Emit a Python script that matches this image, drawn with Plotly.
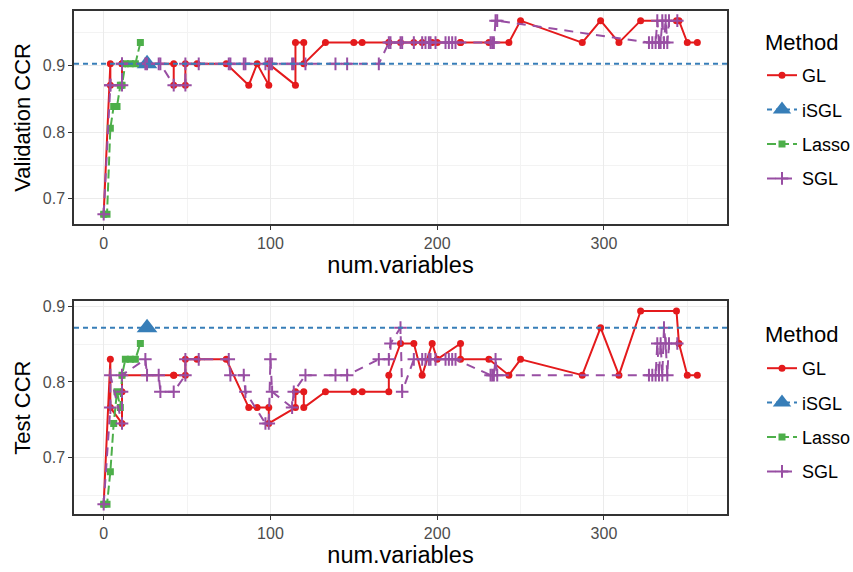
import plotly.graph_objects as go

# ---- data: CCR against number of selected variables ----
# Group lasso (GL)
gl_x = [0, 4, 4, 11, 11, 11, 42, 42, 49, 49, 56, 73.5, 87, 92, 99, 99, 115, 115,
        120, 120, 133, 150, 155, 171, 171, 178, 186, 191, 197, 200, 214, 214,
        231, 243, 250, 287, 298, 309, 322, 343.5, 345, 350, 356]
gl_val = [0.677, 0.903, 0.871, 0.871, 0.903, 0.903, 0.903, 0.871, 0.871, 0.903,
          0.903, 0.903, 0.871, 0.903, 0.871, 0.903, 0.871, 0.935, 0.935, 0.903,
          0.935, 0.935, 0.935, 0.935, 0.935, 0.935, 0.935, 0.935, 0.935, 0.935,
          0.935, 0.935, 0.935, 0.935, 0.968, 0.935, 0.968, 0.935, 0.968, 0.968,
          0.968, 0.935, 0.935]
gl_test = [0.638, 0.830, 0.766, 0.745, 0.787, 0.809, 0.809, 0.809, 0.809, 0.830,
           0.830, 0.830, 0.766, 0.766, 0.766, 0.745, 0.766, 0.787, 0.787, 0.766,
           0.787, 0.787, 0.787, 0.787, 0.809, 0.851, 0.851, 0.809, 0.851, 0.830,
           0.851, 0.830, 0.830, 0.809, 0.830, 0.809, 0.872, 0.809, 0.894, 0.894,
           0.851, 0.809, 0.809]

# iSGL: a single selected model
isgl_x = [26]
isgl_val = [0.903]
isgl_test = [0.872]

# Lasso
lasso_x = [0, 2, 4, 6, 8, 10, 11, 13, 16, 19, 22]
lasso_val = [0.677, 0.677, 0.806, 0.839, 0.839, 0.871, 0.871, 0.903, 0.903, 0.903, 0.935]
lasso_test = [0.638, 0.638, 0.681, 0.745, 0.787, 0.766, 0.809, 0.830, 0.830, 0.830, 0.851]

# Sparse group lasso (SGL)
sgl_x = [0, 4, 4, 11, 11, 11, 25, 26, 33, 34, 42, 49, 49, 57, 75, 76, 84, 85,
         97, 99, 100, 101, 113, 114, 121, 139, 146, 165, 171, 172, 178, 179,
         186, 191, 193, 195, 196, 199, 205, 207, 209, 211, 232, 233, 234, 235,
         236, 327, 329, 331, 332, 333, 334, 335, 336, 337, 338, 339, 344]
sgl_val = [0.677, 0.871, 0.871, 0.871, 0.903, 0.903, 0.903, 0.903, 0.903, 0.903,
           0.871, 0.871, 0.903, 0.903, 0.903, 0.903, 0.903, 0.903, 0.903, 0.903,
           0.903, 0.903, 0.903, 0.903, 0.903, 0.903, 0.903, 0.903, 0.935, 0.935,
           0.935, 0.935, 0.935, 0.935, 0.935, 0.935, 0.935, 0.935, 0.935, 0.935,
           0.935, 0.935, 0.935, 0.935, 0.935, 0.968, 0.968, 0.935, 0.935, 0.935,
           0.968, 0.935, 0.935, 0.968, 0.935, 0.968, 0.935, 0.968, 0.968]
sgl_test = [0.638, 0.766, 0.809, 0.745, 0.787, 0.809, 0.830, 0.809, 0.809, 0.787,
            0.787, 0.809, 0.830, 0.830, 0.830, 0.809, 0.809, 0.787, 0.745, 0.745,
            0.830, 0.787, 0.766, 0.787, 0.809, 0.809, 0.809, 0.830, 0.830, 0.851,
            0.872, 0.787, 0.830, 0.830, 0.830, 0.830, 0.830, 0.830, 0.830, 0.830,
            0.830, 0.830, 0.809, 0.809, 0.809, 0.830, 0.809, 0.809, 0.809, 0.809,
            0.851, 0.809, 0.851, 0.809, 0.872, 0.851, 0.809, 0.851, 0.851]

methods = ["GL", "iSGL", "Lasso", "SGL"]
x_ticks = [0, 100, 200, 300]
y_ticks = [0.7, 0.8, 0.9]

colors = {"GL": "#E41A1C", "iSGL": "#377EB8", "Lasso": "#4DAF4A", "SGL": "#984EA3"}
dashes = {"GL": "solid", "iSGL": "5px,4px", "Lasso": "9px,4px", "SGL": "9px,7px"}

FONT = "Liberation Sans, Arial, sans-serif"

fig = go.Figure()

panels = [
    ("x", "y", "legend", {"GL": gl_val, "iSGL": isgl_val, "Lasso": lasso_val, "SGL": sgl_val}),
    ("x2", "y2", "legend2", {"GL": gl_test, "iSGL": isgl_test, "Lasso": lasso_test, "SGL": sgl_test}),
]
xs = {"GL": gl_x, "iSGL": isgl_x, "Lasso": lasso_x, "SGL": sgl_x}

for xa, ya, leg, ys in panels:
    for m in methods:
        c = colors[m]
        if m == "GL":
            marker = dict(symbol="circle", size=7, color=c)
        elif m == "iSGL":
            marker = dict(symbol="triangle-up", size=18, color=c)
        elif m == "Lasso":
            marker = dict(symbol="square", size=7, color=c)
        else:
            marker = dict(symbol="cross-thin", size=9, color=c,
                          line=dict(color=c, width=2))
        fig.add_trace(go.Scatter(
            x=xs[m], y=ys[m], name=m, mode="lines+markers",
            line=dict(color=c, width=2, dash=dashes[m]),
            marker=marker, xaxis=xa, yaxis=ya, legend=leg,
            legendgroup=m + leg, showlegend=True,
        ))
    # iSGL reference level across the full panel
    fig.add_shape(type="line", xref=xa + " domain", yref=ya, x0=0, x1=1,
                  y0=ys["iSGL"][0], y1=ys["iSGL"][0],
                  line=dict(color=colors["iSGL"], width=2, dash="5px,4px"),
                  layer="above")

axis_common = dict(
    showgrid=True, gridcolor="#EBEBEB", gridwidth=1.4,
    showline=True, mirror=True, linecolor="#333333", linewidth=1.5,
    ticks="outside", ticklen=4, tickwidth=1.2, tickcolor="#333333",
    tickfont=dict(family=FONT, size=16, color="#4D4D4D"),
    zeroline=False,
)

title_font = dict(family=FONT, size=22, color="#000000")

xaxis_common = dict(axis_common, range=[-17.8, 373.8], tickmode="array",
                    tickvals=x_ticks,
                    minor=dict(tickmode="array", tickvals=[50, 150, 250, 350],
                               showgrid=True, gridcolor="#F3F3F3", gridwidth=0.9,
                               ticks=""),
                    title=dict(text="num.variables",
                               font=dict(title_font, size=23.5), standoff=6))

fig.update_layout(
    width=853, height=572,
    margin=dict(l=74, r=126, t=8, b=58),
    paper_bgcolor="white", plot_bgcolor="white",
    font=dict(family=FONT),
    xaxis=dict(xaxis_common, domain=[0, 1], anchor="y"),
    xaxis2=dict(xaxis_common, domain=[0, 1], anchor="y2"),
    yaxis=dict(axis_common, domain=[0.577, 1], anchor="x",
               range=[0.6625, 0.9825], tickmode="array", tickvals=y_ticks,
               ticktext=[str(v) for v in y_ticks],
               minor=dict(tickmode="array", tickvals=[0.65, 0.75, 0.85, 0.95],
                          showgrid=True, gridcolor="#F3F3F3", gridwidth=0.9, ticks=""),
               title=dict(text="Validation CCR", font=title_font, standoff=6)),
    yaxis2=dict(axis_common, domain=[0, 0.423], anchor="x2",
                range=[0.625, 0.907], tickmode="array", tickvals=y_ticks,
                ticktext=[str(v) for v in y_ticks],
                minor=dict(tickmode="array", tickvals=[0.65, 0.75, 0.85],
                           showgrid=True, gridcolor="#F3F3F3", gridwidth=0.9, ticks=""),
                title=dict(text="Test CCR", font=title_font, standoff=6)),
)

legend_common = dict(
    font=dict(family=FONT, size=18, color="#000000"),
    xref="container", yref="container", xanchor="left", yanchor="top",
    bgcolor="rgba(0,0,0,0)", tracegroupgap=8, itemwidth=30,
)
fig.update_layout(
    legend=dict(legend_common, x=762 / 853, y=1 - 57 / 572),
    legend2=dict(legend_common, x=762 / 853, y=1 - 350 / 572),
)

# legend headings
for ypix in (40, 333):
    fig.add_annotation(text="Method", xref="paper", yref="paper",
                       x=(763 - 74) / 653, y=1 - (ypix - 8) / 506,
                       xanchor="left", yanchor="middle", showarrow=False,
                       font=dict(family=FONT, size=22, color="#000000"))

fig.write_html("out.html")
